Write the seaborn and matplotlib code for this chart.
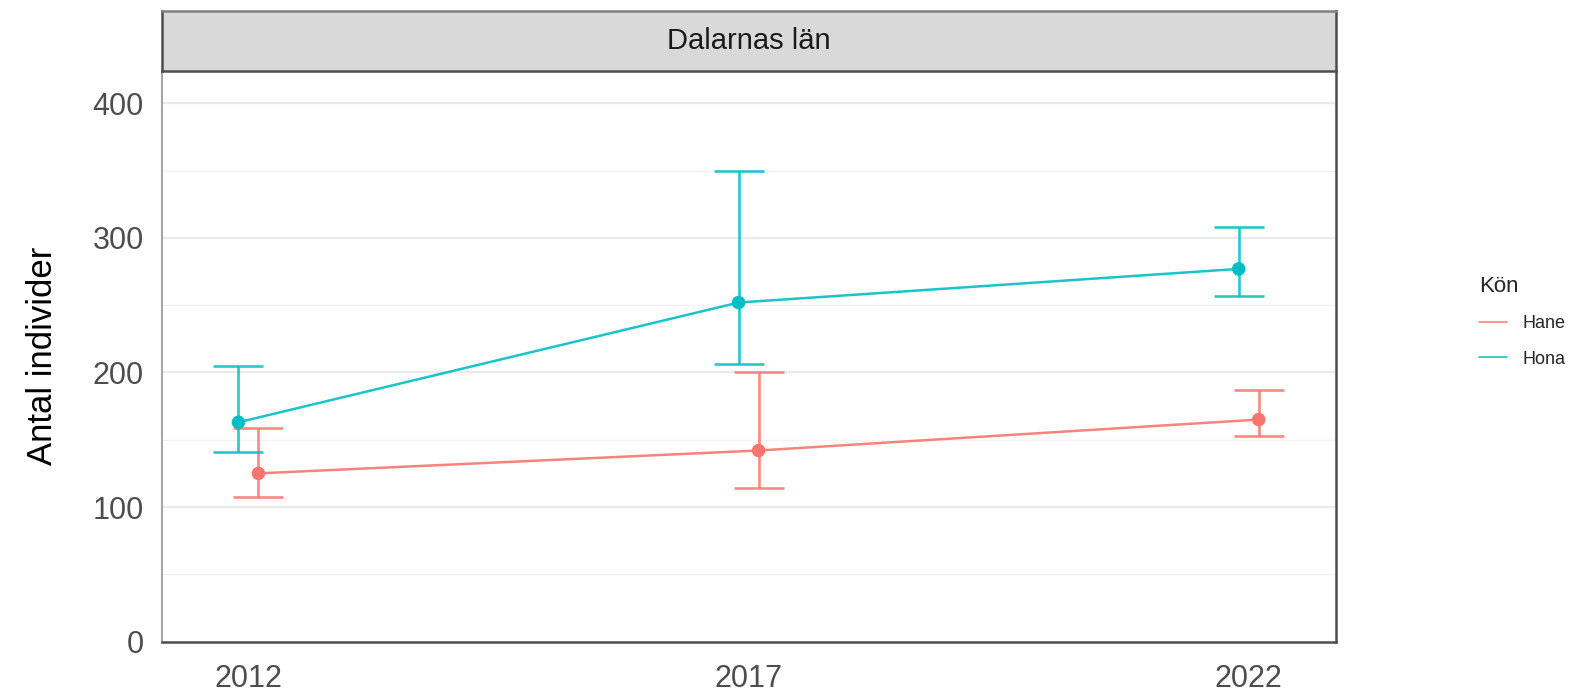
import matplotlib
matplotlib.use("Agg")
import matplotlib.pyplot as plt
import numpy as np
import pandas as pd
import seaborn as sns

# --- data ---
years = [2012, 2017, 2022]
sexes = ["Hane", "Hona"]
hane_mean = [125, 142, 165]
hane_low = [107.5, 114, 153]
hane_high = [159, 200, 187]
hona_mean = [163, 252, 277]
hona_low = [141, 206, 257]
hona_high = [205, 350, 308]

colors = {"Hane": "#F8766D", "Hona": "#00BFC4"}
dodge = {"Hane": 0.1, "Hona": -0.1}

df = pd.DataFrame({
    "year": years * 2,
    "kon": ["Hane"] * 3 + ["Hona"] * 3,
    "mean": hane_mean + hona_mean,
    "low": hane_low + hona_low,
    "high": hane_high + hona_high,
})
df["x"] = df["year"] + df["kon"].map(dodge)

sns.set_style("white")
plt.rcParams["font.family"] = ["Liberation Sans", "DejaVu Sans"]

fig = plt.figure(figsize=(15.7, 6.91), dpi=100)
ax = fig.add_axes([0.103, 0.0716, 0.7478, 0.8262])

# gridlines
for v in np.arange(50, 400, 100):
    ax.axhline(v, color="#F4F4F4", lw=1.0, zorder=0)
for v in np.arange(100, 401, 100):
    ax.axhline(v, color="#EBEBEB", lw=1.6, zorder=0)

# error bars
for kon in sexes:
    sub = df[df["kon"] == kon]
    ax.errorbar(sub["x"], sub["mean"],
                yerr=[sub["mean"] - sub["low"], sub["high"] - sub["mean"]],
                fmt="none", ecolor=colors[kon], elinewidth=1.9,
                capsize=18, capthick=1.9, alpha=0.85, zorder=2)

sns.lineplot(data=df, x="x", y="mean", hue="kon", palette=colors,
             linewidth=1.8, ax=ax, zorder=3, alpha=0.9)
sns.scatterplot(data=df, x="x", y="mean", hue="kon", palette=colors,
                s=95, edgecolor="none", legend=False, ax=ax, zorder=4)

ax.set_xlim(2011.133, 2022.87)
ax.set_ylim(0, 424.4)
ax.set_xticks(years)
ax.set_yticks([0, 100, 200, 300, 400])
ax.set_xlabel("")
ax.set_ylabel("Antal individer", fontsize=25, color="black", labelpad=24)
ax.tick_params(axis="both", labelsize=22, colors="#4D4D4D", length=5,
               width=1.3, direction="out")
ax.tick_params(axis="y", pad=8)
ax.tick_params(axis="x", pad=11)
ax.tick_params(axis="both", color="#333333")

ax.spines["top"].set_visible(False)
ax.spines["left"].set_color("#A6A6A6")
ax.spines["left"].set_linewidth(1.5)
ax.spines["bottom"].set_color("#4D4D4D")
ax.spines["bottom"].set_linewidth(1.8)
ax.spines["right"].set_color("#4D4D4D")
ax.spines["right"].set_linewidth(1.8)

# facet strip
strip = fig.add_axes([0.103, 0.8977, 0.7478, 0.0864])
strip.set_facecolor("#D9D9D9")
strip.set_xticks([])
strip.set_yticks([])
for s in strip.spines.values():
    s.set_color("#4D4D4D")
    s.set_linewidth(1.8)
strip.spines["top"].set_color("#7F7F7F")
strip.text(0.5, 0.5, "Dalarnas län", ha="center", va="center",
           fontsize=21, color="#1A1A1A", transform=strip.transAxes)

# legend
handles, labels = ax.get_legend_handles_labels()
ax.get_legend().remove()
leg = fig.legend(handles, labels, title="Kön", loc="upper left",
                 bbox_to_anchor=(0.942, 0.600), frameon=False, fontsize=13,
                 title_fontsize=16, handlelength=1.55, labelspacing=1.0,
                 handletextpad=0.85, borderpad=0, borderaxespad=0)
leg._legend_box.align = "left"
for line in leg.get_lines():
    line.set_linewidth(1.2)

fig.savefig("out.png", dpi=100)
